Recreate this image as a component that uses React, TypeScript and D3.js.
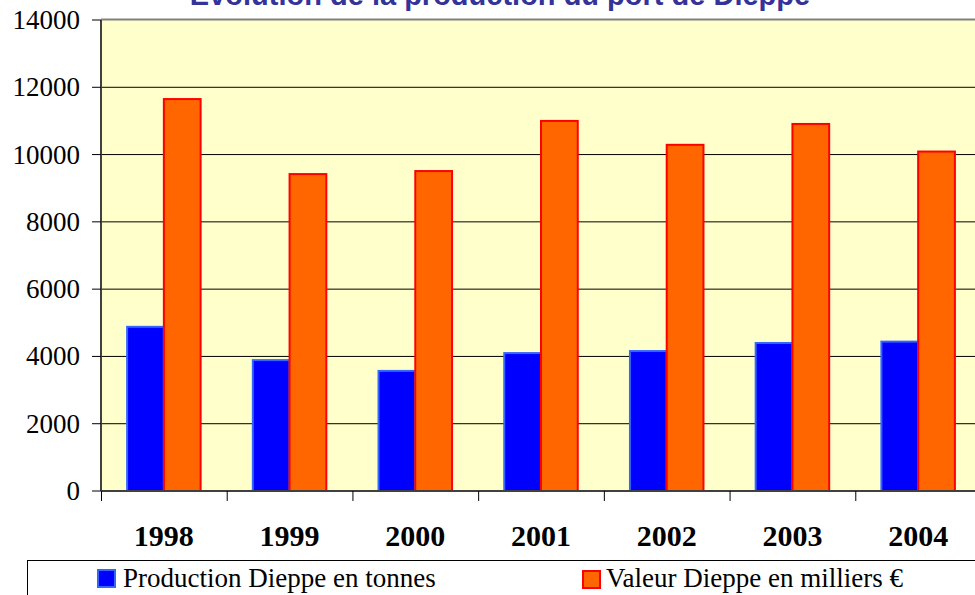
import * as React from 'react';
import {scaleBand, scaleLinear, range} from 'd3';

const years = ['1998', '1999', '2000', '2001', '2002', '2003', '2004'];
const production = [4880, 3890, 3570, 4100, 4160, 4400, 4440];
const valeur = [11650, 9420, 9510, 11000, 10290, 10910, 10090];
const yTicks = [0, 2000, 4000, 6000, 8000, 10000, 12000, 14000];
const seriesNames = ['Production Dieppe en tonnes', 'Valeur Dieppe en milliers €'];
const title = 'Evolution de la production du port de Dieppe';

const plot = {left: 101, right: 981, top: 20, bottom: 491};

const xScale = scaleBand<string>()
    .domain(years)
    .range([plot.left, plot.right]);

const subScale = scaleBand<string>()
    .domain(['p', 'v'])
    .range([0, xScale.bandwidth()])
    .paddingOuter(0.71);

const yScale = scaleLinear()
    .domain([0, 14000])
    .range([plot.bottom, plot.top]);

const serif = '"Liberation Serif", "Times New Roman", serif';

export default function App() {
    const bars = years.map((yr, i) => {
        const x0 = xScale(yr)!;
        return (
            <g key={yr}>
                <rect
                    x={x0 + subScale('p')!}
                    y={yScale(production[i])}
                    width={subScale.bandwidth()}
                    height={yScale(0) - yScale(production[i])}
                    fill='#0000FF'
                    stroke='#3366FF'
                    strokeWidth={2}
                />
                <rect
                    x={x0 + subScale('v')!}
                    y={yScale(valeur[i])}
                    width={subScale.bandwidth()}
                    height={yScale(0) - yScale(valeur[i])}
                    fill='#FF6600'
                    stroke='#FF0000'
                    strokeWidth={2}
                />
            </g>
        );
    });

    return (
        <svg width={975} height={595}
             style={{position: 'absolute', left: 0, top: 0, background: '#fff'}}>
            <text x={500} y={5} textAnchor='middle' fontFamily='"Liberation Sans", Arial, sans-serif'
                  fontWeight='bold' fontSize={29} fill='#333399'>{title}</text>

            <rect x={plot.left} y={plot.top} width={plot.right - plot.left}
                  height={plot.bottom - plot.top} fill='#FFFFCC' />
            <line x1={plot.left} x2={plot.right} y1={plot.top - 0.5} y2={plot.top - 0.5}
                  stroke='#808080' strokeWidth={2} />

            {yTicks.slice(1, -1).map(t =>
                <line key={t} x1={plot.left} x2={plot.right} y1={yScale(t)} y2={yScale(t)}
                      stroke='#000' strokeWidth={1} />
            )}

            {bars}

            {/* y axis */}
            <line x1={plot.left} x2={plot.left} y1={plot.top} y2={plot.bottom}
                  stroke='#404040' strokeWidth={2} />
            {yTicks.map(t =>
                <g key={t}>
                    <line x1={92} x2={plot.left} y1={yScale(t)} y2={yScale(t)} stroke='#000' />
                    <text x={80} y={yScale(t) + 9} textAnchor='end' fontFamily={serif}
                          fontSize={27} fill='#000'>{t}</text>
                </g>
            )}

            {/* x axis */}
            <line x1={plot.left} x2={plot.right} y1={plot.bottom} y2={plot.bottom}
                  stroke='#404040' strokeWidth={2} />
            {range(years.length).map(i =>
                <line key={i} x1={xScale(years[i])! + 0.5} x2={xScale(years[i])! + 0.5}
                      y1={plot.bottom} y2={plot.bottom + 10} stroke='#000' />
            )}
            {years.map(yr =>
                <text key={yr} x={xScale(yr)! + xScale.bandwidth() / 2} y={546}
                      textAnchor='middle' fontFamily={serif} fontWeight='bold'
                      fontSize={30} fill='#000'>{yr}</text>
            )}

            {/* legend */}
            <rect x={27.5} y={560.5} width={1000} height={60} fill='none' stroke='#000' />
            <rect x={98} y={570} width={17} height={17} fill='#0000FF' stroke='#3366FF' strokeWidth={2} />
            <text x={123} y={587} fontFamily={serif} fontSize={27} fill='#000'>{seriesNames[0]}</text>
            <rect x={583} y={571} width={17} height={17} fill='#FF6600' stroke='#FF0000' strokeWidth={2} />
            <text x={606} y={587} fontFamily={serif} fontSize={27} fill='#000'>{seriesNames[1]}</text>
        </svg>
    );
}
